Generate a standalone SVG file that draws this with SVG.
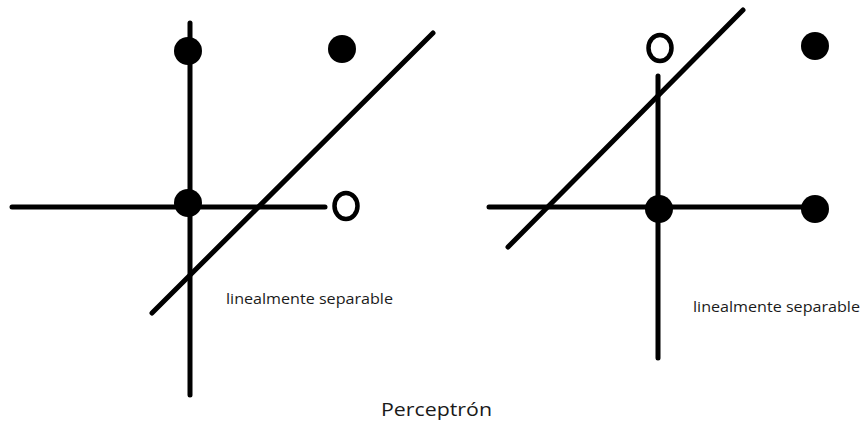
<svg xmlns="http://www.w3.org/2000/svg" width="862" height="422" viewBox="0 0 862 422">
<style>
.ln{stroke:#000;stroke-width:5;stroke-linecap:round;fill:none}
.dot{fill:#000}
.open{fill:#fff;stroke:#000;stroke-width:4.5}
.lbl{font-family:"Open Sans","Liberation Sans",sans-serif;font-size:14px;fill:#1a1a1a}
.title{font-family:"Open Sans","Liberation Sans",sans-serif;font-size:19px;fill:#1a1a1a}
</style>
<rect width="862" height="422" fill="#fff"/>
<g id="connectors">
<line class="ln" x1="190" y1="23" x2="190" y2="395"/>
<line class="ln" x1="12" y1="207" x2="325" y2="207"/>
<line class="ln" x1="152" y1="313" x2="433" y2="33"/>
<line class="ln" x1="658" y1="76" x2="658" y2="358"/>
<line class="ln" x1="489" y1="207" x2="815" y2="207"/>
<line class="ln" x1="508" y1="247" x2="743" y2="10"/>
</g>
<g id="left-top"><circle class="dot" cx="188" cy="51" r="14"/></g>
<g id="left-topright"><circle class="dot" cx="342" cy="49" r="14"/></g>
<g id="left-origin"><circle class="dot" cx="188" cy="203" r="14"/></g>
<g id="left-open"><ellipse class="open" cx="346" cy="206" rx="11.5" ry="13"/></g>
<g id="right-open"><ellipse class="open" cx="660" cy="48" rx="11.5" ry="13"/></g>
<g id="right-topright"><circle class="dot" cx="815" cy="46" r="14"/></g>
<g id="right-origin"><circle class="dot" cx="659" cy="209" r="14"/></g>
<g id="right-right"><circle class="dot" cx="815" cy="209" r="14"/></g>
<text class="lbl" x="226" y="304" textLength="167" lengthAdjust="spacingAndGlyphs">linealmente separable</text>
<text class="lbl" x="693" y="312" textLength="167" lengthAdjust="spacingAndGlyphs">linealmente separable</text>
<text class="title" x="381" y="416" textLength="111" lengthAdjust="spacingAndGlyphs">Perceptrón</text>
</svg>
